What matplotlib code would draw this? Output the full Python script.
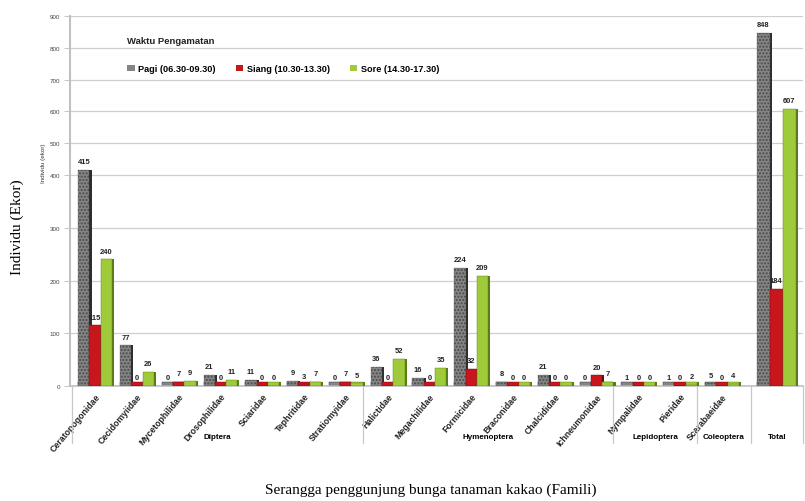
import numpy as np
import matplotlib.pyplot as plt
from matplotlib.patches import Patch

# data
families = ['Ceratopogonidae', 'Cecidomyiidae', 'Mycetophilidae', 'Drosophilidae',
            'Sciaridae', 'Tephritidae', 'Stratiomyidae', 'Halictidae', 'Megachilidae',
            'Formicidae', 'Braconidae', 'Chalcididae', 'Ichneumonidae', 'Nympalidae',
            'Pieridae', 'Scarabaeidae', '']
pagi = [415, 77, 0, 21, 11, 9, 0, 36, 16, 224, 8, 21, 0, 1, 1, 5, 848]
siang = [115, 0, 7, 0, 0, 3, 7, 0, 0, 32, 0, 0, 20, 0, 0, 0, 184]
sore = [240, 26, 9, 11, 0, 7, 5, 52, 35, 209, 0, 0, 7, 0, 2, 4, 607]
orders = ['Diptera', 'Hymenoptera', 'Lepidoptera', 'Coleoptera', 'Total']
series_names = ['Pagi (06.30-09.30)', 'Siang (10.30-13.30)', 'Sore (14.30-17.30)']

colors = ['#858585', '#c8161d', '#9fcb3a']
darks = ['#2e2e2e', '#6e0a0c', '#5a7d17']

plt.rcParams['font.family'] = ['Liberation Sans', 'DejaVu Sans']

# y axis in the picture is stretched: 0-400 wide, 400-900 compressed
k = 0.603
def fwd(y):
    y = np.asarray(y, dtype=float)
    return np.where(y <= 400, y, 400 + (y - 400) * k)

def inv(y):
    y = np.asarray(y, dtype=float)
    return np.where(y <= 400, y, 400 + (y - 400) / k)

x = np.append(np.arange(16), 16.3).astype(float)
w = np.array([0.27] * 16 + [0.31])
floor = 8  # thin floor slab of the 3D bars

fig = plt.figure(figsize=(8.05, 5.02), dpi=100)
ax = fig.add_axes([0.087, 0.229, 0.911, 0.737])
ax.set_yscale('function', functions=(fwd, inv))
ax.set_ylim(0, 900)
ax.set_xlim(-0.6, 16.95)

for i, vals in enumerate([pagi, siang, sore]):
    pos = x + (i - 1) * w
    # darker side face for a 3D look
    ax.bar(pos + w / 2 - 0.02, np.maximum(vals, floor), width=0.07, align='edge',
           color=darks[i], zorder=2 + i, linewidth=0)
    ax.bar(pos, floor, width=w, color=colors[i], edgecolor=darks[i], linewidth=0.3,
           zorder=2 + i)
    if i == 0:
        bars = ax.bar(pos, vals, width=w, color=colors[i], edgecolor='#4a4a4a',
                      hatch='.....', linewidth=0.2, zorder=3 + i)
    else:
        bars = ax.bar(pos, vals, width=w, color=colors[i], edgecolor=darks[i],
                      linewidth=0.3, zorder=3 + i)
    ax.bar_label(bars, padding=3.5, fontsize=5.4, fontweight='bold', color='#222222')

ax.set_yticks(np.arange(0, 901, 100))
ax.tick_params(axis='y', labelsize=4.5, colors='#444444', length=4, width=0.6,
               color='#bbbbbb', pad=3)
ax.grid(axis='y', color='#cfcfcf', linewidth=0.9, zorder=0)
ax.set_axisbelow(True)
for s in ['top', 'right']:
    ax.spines[s].set_visible(False)
ax.spines['left'].set_color('#c0c0c0')
ax.spines['left'].set_linewidth(1.5)
ax.spines['bottom'].set_color('#c0c0c0')
ax.spines['bottom'].set_linewidth(1.2)

ax.set_xticks(x[:16])
ax.set_xticklabels(families[:16], rotation=50, ha='right', rotation_mode='anchor',
                   fontsize=6.3, fontweight='bold', color='#222222')
ax.tick_params(axis='x', length=0, pad=4)

# order groups under the family labels
bounds = [-0.55, 6.4, 12.4, 14.4, 15.7, 16.93]
for b in bounds:
    ax.plot([b, b], [0, -0.155], color='#c8c8c8', linewidth=0.9,
            transform=ax.get_xaxis_transform(), clip_on=False)
for j, name in enumerate(orders):
    ax.text((bounds[j] + bounds[j + 1]) / 2, -0.137, name, ha='center', va='center',
            fontsize=5.8, fontweight='bold', transform=ax.get_xaxis_transform())

fig.text(127 / 805, 1 - 42 / 502, 'Waktu Pengamatan', fontsize=6.8,
         fontweight='bold', va='center', color='#222222')
handles = [Patch(facecolor=colors[i], edgecolor='none') for i in range(3)]
leg = fig.legend(handles, series_names, ncol=3, loc='center left',
                 bbox_to_anchor=(119 / 805, 1 - 70 / 502), frameon=False,
                 prop={'size': 6.6, 'weight': 'bold'},
                 handlelength=0.8, handleheight=0.6, handletextpad=0.4,
                 columnspacing=2.2)

fig.text(0.054, 1 - 163 / 502, 'Individu (ekor)', rotation=90, fontsize=4.5,
         ha='center', va='center', color='#333333')
fig.text(0.022, 1 - 227 / 502, 'Individu (Ekor)', rotation=90, fontsize=11,
         family='Liberation Serif', ha='center', va='center')
fig.text(0.535, 1 - 490 / 502, 'Serangga penggunjung bunga tanaman kakao (Famili)',
         fontsize=11, family='Liberation Serif', ha='center', va='center')

fig.savefig('out.png', dpi=100)
